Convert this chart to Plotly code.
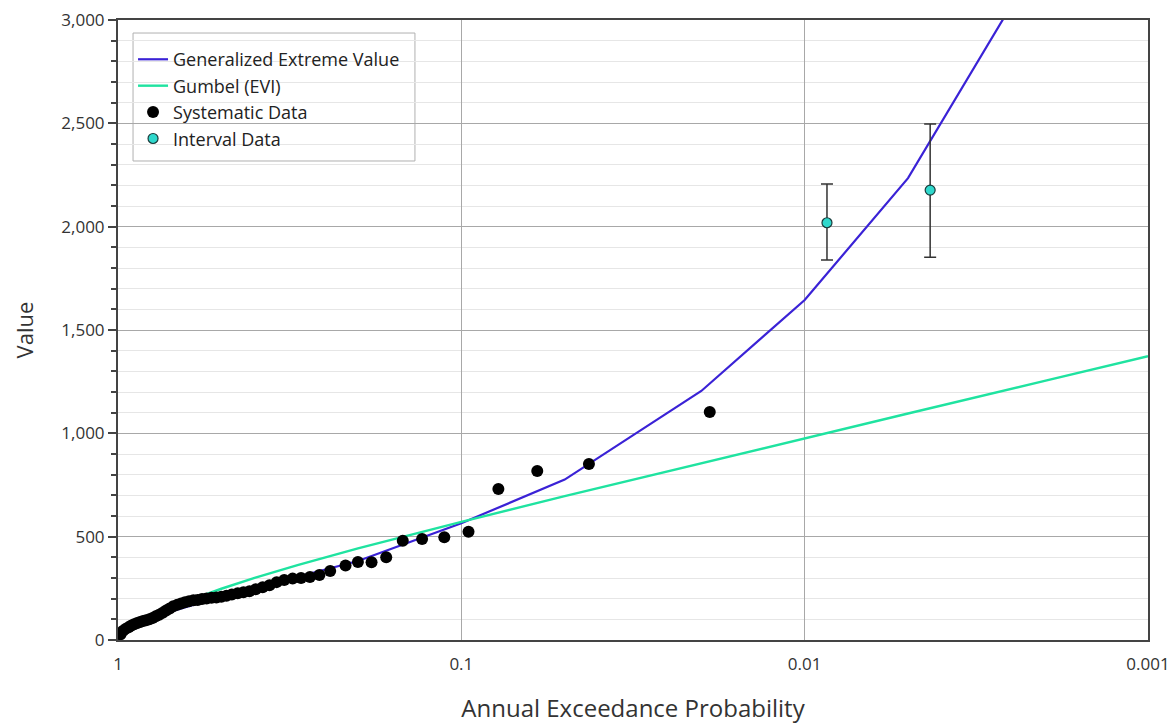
import plotly.graph_objects as go

# Systematic (observed) annual peaks with plotting positions
sys_aep = [0.983, 0.966, 0.948, 0.931, 0.914, 0.897, 0.879, 0.862, 0.845, 0.828,
           0.810, 0.793, 0.776, 0.759, 0.741, 0.724, 0.707, 0.690, 0.672, 0.655,
           0.638, 0.621, 0.603, 0.586, 0.569, 0.552, 0.534, 0.517, 0.500, 0.483,
           0.466, 0.448, 0.431, 0.414, 0.397, 0.379, 0.362, 0.345, 0.328, 0.310,
           0.293, 0.276, 0.259, 0.241, 0.2174, 0.2001, 0.1826, 0.1655, 0.1481,
           0.1301, 0.1121, 0.0953, 0.078, 0.0601, 0.0425, 0.0189]
sys_val = [28, 45, 55, 62, 70, 76, 82, 87, 92, 96,
           100, 106, 115, 122, 132, 143, 152, 163, 170, 177,
           183, 188, 192, 194, 198, 201, 204, 206, 209, 214,
           220, 226, 231, 236, 246, 255, 265, 280, 290, 297,
           300, 305, 315, 334, 361, 377, 376, 400, 480,
           489, 497, 524, 731, 818, 852, 1103]

# Interval (historic) data with lower / upper bounds
int_aep = [0.00861, 0.00431]
int_val = [2019, 2177]
int_low = [1839, 1852]
int_high = [2206, 2497]

# Fitted frequency curves
gev_aep = [0.8, 0.5, 0.2, 0.1, 0.05, 0.02, 0.01, 0.005, 0.002, 0.001]
gev_val = [110, 210, 382, 565, 776, 1205, 1645, 2235, 3340, 4400]

gum_aep = [0.8, 0.7, 0.6, 0.5, 0.4, 0.3, 0.2, 0.1, 0.05, 0.02, 0.01, 0.005, 0.002, 0.001]
gum_val = [103, 153, 200, 248, 301, 362, 443, 572, 696, 856, 976, 1096, 1254, 1373]

x_ticks = [1, 0.1, 0.01, 0.001]
x_labels = ["1", "0.1", "0.01", "0.001"]

FONT = "Open Sans, Noto Sans, sans-serif"

fig = go.Figure()

fig.add_trace(go.Scatter(
    x=gev_aep, y=gev_val, mode="lines", name="Generalized Extreme Value",
    line=dict(color="#3a22d6", width=2.2)))
fig.add_trace(go.Scatter(
    x=gum_aep, y=gum_val, mode="lines", name="Gumbel (EVI)",
    line=dict(color="#1fe3a0", width=2.4)))
fig.add_trace(go.Scatter(
    x=sys_aep, y=sys_val, mode="markers", name="Systematic Data",
    marker=dict(color="#000000", size=12)))
fig.add_trace(go.Scatter(
    x=int_aep, y=int_val, mode="markers", name="Interval Data",
    marker=dict(color="#2fd8cc", size=10, line=dict(color="#1a3a3a", width=1.2)),
    error_y=dict(type="data", symmetric=False,
                 array=[h - v for h, v in zip(int_high, int_val)],
                 arrayminus=[v - l for v, l in zip(int_val, int_low)],
                 color="#333333", thickness=1.5, width=6)))

# Legend frame: white box above the grid, beneath the traces
fig.add_shape(type="rect", xref="paper", yref="paper",
              x0=0.0146, x1=0.2883, y0=0.7726, y1=0.979,
              fillcolor="white", line=dict(color="#b0b0b0", width=1),
              layer="between")

fig.update_layout(
    width=1173, height=724,
    margin=dict(l=118, r=25, t=20, b=84),
    paper_bgcolor="white", plot_bgcolor="white",
    font=dict(family=FONT, color="#333333", size=17),
    showlegend=True,
    legend=dict(x=0.0146, y=0.966, xanchor="left", yanchor="top",
                bgcolor="rgba(0,0,0,0)", borderwidth=0,
                font=dict(family=FONT, size=18, color="#222222"),
                tracegroupgap=0, itemwidth=30),
)

fig.update_xaxes(
    type="log", range=[0, -3], automargin=False,
    tickvals=x_ticks, ticktext=x_labels,
    showgrid=True, gridcolor="#a8a8a8", gridwidth=1,
    showline=True, linecolor="#444444", linewidth=2, mirror=True,
    ticks="", ticklabelstandoff=8, tickfont=dict(size=17, color="#333333"),
    title=dict(text="Annual Exceedance Probability", standoff=30,
               font=dict(size=24, color="#333333")),
    zeroline=False,
)

fig.update_yaxes(
    range=[0, 3000], dtick=500, tickformat=",", automargin=False,
    showgrid=True, gridcolor="#a8a8a8", gridwidth=1,
    showline=True, linecolor="#444444", linewidth=2, mirror=True,
    ticks="outside", ticklen=8, tickcolor="#444444", tickwidth=1.5,
    minor=dict(dtick=100, ticks="outside", ticklen=5, tickcolor="#444444",
               showgrid=True, gridcolor="#e6e6e6", gridwidth=1),
    tickfont=dict(size=17, color="#333333"),
    title=dict(text="Value", standoff=22, font=dict(size=22, color="#333333")),
    zeroline=False,
)

fig.write_html("out.html")
